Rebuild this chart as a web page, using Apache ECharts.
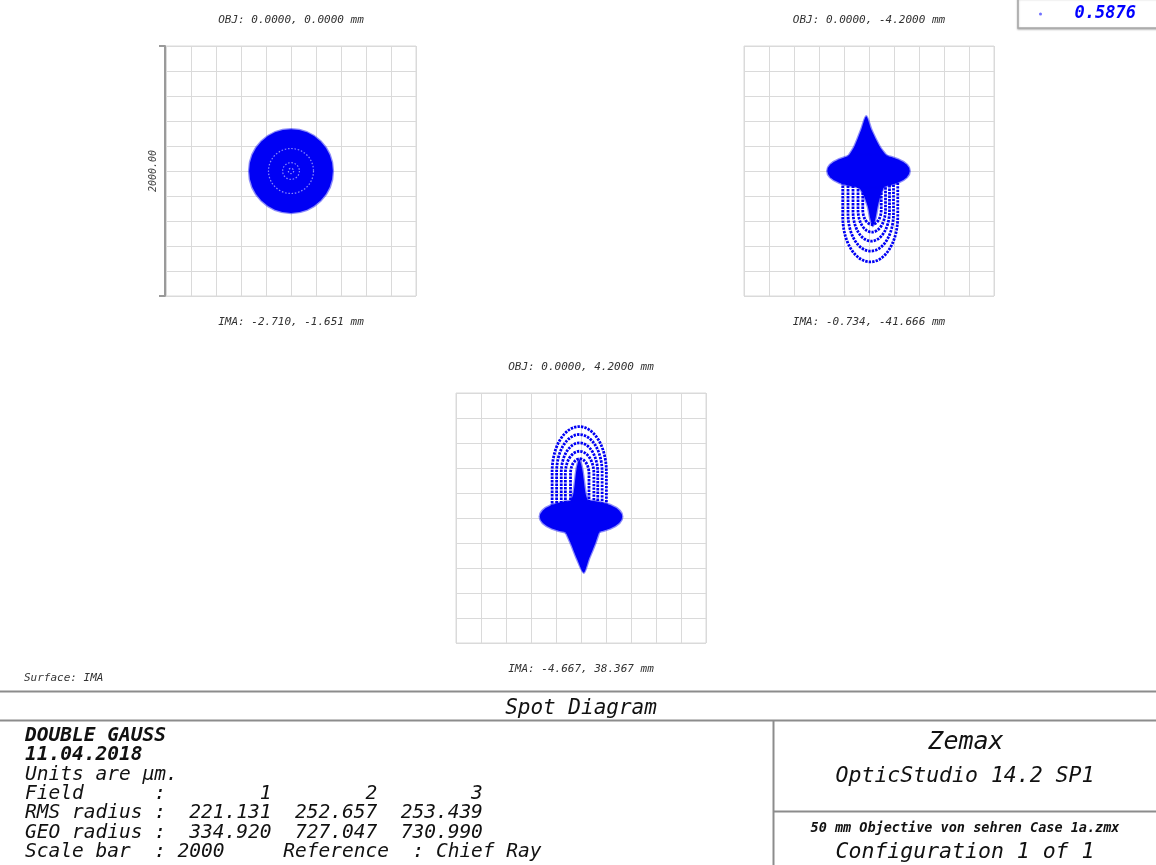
<!DOCTYPE html>
<html>
<head>
<meta charset="utf-8">
<script src="https://cdn.jsdelivr.net/npm/echarts@6/dist/echarts.min.js"></script>
<style>
html, body { margin: 0; padding: 0; background: #fff; }
#chart { width: 1156px; height: 865px; }
</style>
</head>
<body>
<div id="chart"></div>
<script>
// Wavelength (µm) shown in the legend
const wavelength = '0.5876';
// Field headers and chief-ray image coordinates
const objLabels = ['OBJ: 0.0000, 0.0000 mm', 'OBJ: 0.0000, -4.2000 mm', 'OBJ: 0.0000, 4.2000 mm'];
const imaLabels = ['IMA: -2.710, -1.651 mm', 'IMA: -0.734, -41.666 mm', 'IMA: -4.667, 38.367 mm'];
// Scale bar (µm) = full box height; grid step (µm)
const scaleBar = 2000;
const gridStep = 200;
// Summary table
const fieldNums = ['1', '2', '3'];
const rmsRadius = ['221.131', '252.657', '253.439'];
const geoRadius = ['334.920', '727.047', '730.990'];

// Spot footprints, µm relative to the chief ray (y up)
// Field 1: round spot [cx, cy, r] and lighter zones inside it
const f1Disk = [[0, 0, 335]];
const f1Zones = [[0, 0, 180], [0, 0, 67], [0, 0, 21]];
// Field 2: core [cx, cy, semiX, semiY], upper spike outline, lower stem outline,
// coma arcs [cx, halfWidth, extreme y, arc depth]
const f2Core = [[-4, 0, 330, 134]];
const f2Spike = [[-170, 110], [-156, 132], [-116, 198], [-62, 332], [-22, 438], [18, 332], [84, 198], [132, 132], [150, 110]];
const f2Stem = [[-116, -68], [138, -68], [98, -175], [70, -282], [50, -388], [30, -441], [12, -388], [-10, -282], [-50, -175]];
const f2Arcs = [[10, 220, -727, 360], [14, 182, -641, 300], [18, 146, -561, 240], [22, 110, -489, 180], [24, 74, -428, 120]];
// Field 3: mirror case
const f3Core = [[0, 10, 330, 133]];
const f3Spike = [[-150, -50], [-138, -78], [-84, -198], [-30, -332], [22, -438], [62, -332], [116, -198], [156, -78], [165, -50]];
const f3Stem = [[-90, 80], [60, 80], [36, 200], [10, 390], [-14, 470], [-36, 390], [-60, 200]];
const f3Arcs = [[-14, 217, 731, 360], [-13, 182, 668, 300], [-12, 146, 601, 240], [-11, 114, 534, 180], [-10, 74, 474, 120]];

const spotColor = '#0000f5';
const spotHalo = 'rgba(0,0,245,0.45)';
const mono = "'DejaVu Sans Mono', monospace";
const gridColor = '#dadada';

const boxes = [
  { left: 166, top: 46 },
  { left: 744, top: 46 },
  { left: 456, top: 393 }
];
const boxSize = 250;
const half = scaleBar / 2;

function axis(i) {
  return {
    gridIndex: i, type: 'value', min: -half, max: half, interval: gridStep,
    axisLine: { show: false }, axisTick: { show: false }, axisLabel: { show: false },
    splitLine: { show: true, lineStyle: { color: gridColor, width: 1 } }
  };
}

// Scale bar beside the first box: one tick at each end of the bar
const scaleAxis = {
  gridIndex: 0, type: 'value', min: -half, max: half, interval: scaleBar,
  position: 'left', offset: 1,
  axisLine: { show: true, onZero: false, lineStyle: { color: '#9a9a9a', width: 2 } },
  axisTick: { show: true, length: 6, lineStyle: { color: '#9a9a9a', width: 2 } },
  axisLabel: { show: false },
  splitLine: { show: false },
  name: scaleBar.toFixed(2), nameLocation: 'middle', nameRotate: 90, nameGap: 7,
  nameTextStyle: { fontFamily: mono, fontStyle: 'italic', fontSize: 10, color: '#444' }
};

function base(gi, data, z) {
  return {
    type: 'custom', name: wavelength, coordinateSystem: 'cartesian2d',
    xAxisIndex: gi, yAxisIndex: gi, data: data, z: z, silent: true,
    itemStyle: { color: spotColor }
  };
}

function ellipsePath(cx, cy, rx, ry) {
  return `M${cx - rx} ${cy} A${rx} ${ry} 0 1 0 ${cx + rx} ${cy} A${rx} ${ry} 0 1 0 ${cx - rx} ${cy} Z`;
}

const fillStyle = { fill: spotColor, stroke: spotHalo, lineWidth: 2.5 };

function coreSeries(gi, cores) {
  const s = base(gi, cores.map(c => [c[0], c[1]]), 4);
  s.renderItem = (params, api) => {
    const c = cores[params.dataIndex];
    const p = api.coord([c[0], c[1]]);
    const sz = api.size([c[2], c[3]]);
    return { type: 'path', shape: { pathData: ellipsePath(p[0], p[1], sz[0], sz[1]) }, style: fillStyle };
  };
  return s;
}

function outlineSeries(gi, pts) {
  const s = base(gi, [pts[0]], 3);
  s.renderItem = (params, api) => ({
    type: 'polygon',
    shape: { points: pts.map(p => api.coord(p)), smooth: 0.25 },
    style: fillStyle
  });
  return s;
}

// Nested U-shaped arcs, their open ends running into the core
function arcSeries(gi, arcs, yOpen) {
  const s = base(gi, arcs.map(a => [a[0], a[2]]), 2);
  s.renderItem = (params, api) => {
    const a = arcs[params.dataIndex];
    const down = a[2] < 0;
    const cy = down ? a[2] + a[3] : a[2] - a[3];
    const c = api.coord([a[0], cy]);
    const sz = api.size([a[1], a[3]]);
    const open = api.coord([a[0], yOpen])[1];
    const x1 = c[0] - sz[0], x2 = c[0] + sz[0];
    return {
      type: 'path',
      shape: { pathData: `M${x1} ${open} L${x1} ${c[1]} A${sz[0]} ${sz[1]} 0 0 ${down ? 0 : 1} ${x2} ${c[1]} L${x2} ${open}` },
      style: { fill: 'none', stroke: spotColor, lineWidth: 2.8, lineDash: [2.4, 1.1] }
    };
  };
  return s;
}

function diskSeries(gi, disks) {
  const s = base(gi, disks.map(d => [d[0], d[1]]), 3);
  s.renderItem = (params, api) => {
    const d = disks[params.dataIndex];
    const p = api.coord([d[0], d[1]]);
    return { type: 'circle', shape: { cx: p[0], cy: p[1], r: api.size([d[2], d[2]])[0] }, style: fillStyle };
  };
  return s;
}

function zoneSeries(gi, zones) {
  const s = base(gi, zones.map(d => [d[0], d[1]]), 4);
  s.renderItem = (params, api) => {
    const d = zones[params.dataIndex];
    const p = api.coord([d[0], d[1]]);
    return {
      type: 'circle', shape: { cx: p[0], cy: p[1], r: api.size([d[2], d[2]])[0] },
      style: { fill: 'none', stroke: 'rgba(255,255,255,0.55)', lineWidth: 1.2, lineDash: [1.5, 1.8] }
    };
  };
  return s;
}

// Text helpers
function txt(x, y, text, size, o) {
  o = o || {};
  return {
    type: 'text', x: x, y: y, silent: true,
    style: {
      text: text, fontFamily: mono, fontSize: size, fontStyle: 'italic',
      fontWeight: o.bold ? 'bold' : 'normal', fill: o.color || '#111',
      align: o.align || 'left', verticalAlign: 'middle'
    }
  };
}
function hline(x1, x2, y) {
  return { type: 'line', silent: true, shape: { x1: x1, y1: y, x2: x2, y2: y }, style: { stroke: '#8c8c8c', lineWidth: 2 } };
}
function vline(x, y1, y2) {
  return { type: 'line', silent: true, shape: { x1: x, y1: y1, x2: x, y2: y2 }, style: { stroke: '#8c8c8c', lineWidth: 2 } };
}

const graphics = [];
boxes.forEach((b, i) => {
  const cx = b.left + boxSize / 2;
  graphics.push(txt(cx, b.top - 26, objLabels[i], 11, { align: 'center', color: '#333' }));
  graphics.push(txt(cx, b.top + boxSize + 26, imaLabels[i], 11, { align: 'center', color: '#333' }));
});
graphics.push(txt(24, 678, 'Surface: IMA', 11, { color: '#333' }));

// Title block
graphics.push(hline(0, 1156, 691.5));
graphics.push(hline(0, 1156, 720.5));
graphics.push(vline(773.5, 720.5, 865));
graphics.push(hline(773.5, 1156, 811.5));
graphics.push(txt(581, 709, 'Spot Diagram', 21, { align: 'center' }));

const label = (s) => s.padEnd(11) + ':';
const row = (name, vals) => label(name) + vals.map(v => v.padStart(9)).join('');
const infoLines = [
  ['DOUBLE GAUSS', true],
  ['11.04.2018', true],
  ['Units are µm.', false],
  [row('Field', fieldNums), false],
  [row('RMS radius', rmsRadius), false],
  [row('GEO radius', geoRadius), false],
  [label('Scale bar') + ' ' + scaleBar + '     Reference  : Chief Ray', false]
];
infoLines.forEach((l, k) => {
  graphics.push(txt(25, 736 + k * 19.3, l[0], 19.5, { bold: l[1] }));
});
graphics.push(txt(966, 742, 'Zemax', 25, { align: 'center' }));
graphics.push(txt(965, 776, 'OpticStudio 14.2 SP1', 21.5, { align: 'center' }));
graphics.push(txt(965, 828, '50 mm Objective von sehren Case 1a.zmx', 13.5, { bold: true, align: 'center' }));
graphics.push(txt(965, 852, 'Configuration 1 of 1', 21.5, { align: 'center' }));

const chart = echarts.init(document.getElementById('chart'), null, { renderer: 'canvas' });
chart.setOption({
  animation: false,
  backgroundColor: '#fff',
  legend: {
    data: [{ name: wavelength, icon: 'circle', itemStyle: { color: '#7070ff' } }],
    left: 1018, top: -2,
    itemWidth: 6, itemHeight: 3,
    padding: [6, 60, 4, 21],
    borderColor: '#a8a8a8', borderWidth: 1.5, backgroundColor: '#fff',
    shadowColor: 'rgba(0,0,0,0.25)', shadowBlur: 2, shadowOffsetY: 1,
    selectedMode: false,
    textStyle: { color: '#0000ff', fontFamily: mono, fontStyle: 'italic', fontWeight: 'bold', fontSize: 17, lineHeight: 20, padding: [0, 0, 0, 26] }
  },
  grid: boxes.map(b => ({
    left: b.left, top: b.top, width: boxSize, height: boxSize,
    show: true, borderColor: gridColor, borderWidth: 1, containLabel: false, outerBoundsMode: 'none'
  })),
  xAxis: boxes.map((b, i) => axis(i)),
  yAxis: boxes.map((b, i) => axis(i)).concat([scaleAxis]),
  series: [
    diskSeries(0, f1Disk),
    zoneSeries(0, f1Zones),
    arcSeries(1, f2Arcs, -60),
    outlineSeries(1, f2Stem),
    outlineSeries(1, f2Spike),
    coreSeries(1, f2Core),
    arcSeries(2, f3Arcs, 60),
    outlineSeries(2, f3Stem),
    outlineSeries(2, f3Spike),
    coreSeries(2, f3Core)
  ],
  graphic: { elements: graphics }
});
</script>
</body>
</html>
